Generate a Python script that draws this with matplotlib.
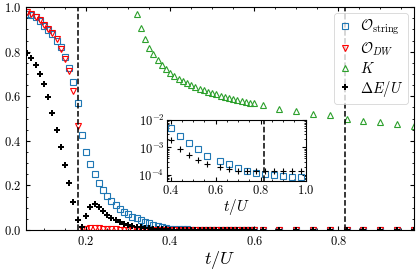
import numpy as np
import matplotlib
matplotlib.use("Agg")
import matplotlib.pyplot as plt
from matplotlib.ticker import AutoMinorLocator, LogLocator, NullFormatter

# grid of t/U values (dense up to 0.60, then coarse)
t = np.round(np.concatenate([np.arange(0.06, 0.605, 0.01), np.arange(0.62, 0.99, 0.04)]), 2)

o_string = [0.968, 0.964, 0.954, 0.936, 0.916, 0.898, 0.878, 0.849, 0.819, 0.778, 0.728, 0.664, 0.571,
            0.428, 0.350, 0.297, 0.251, 0.213, 0.180, 0.153, 0.132, 0.113, 0.096, 0.083, 0.072, 0.060, 0.053, 0.045,
            0.037, 0.030, 0.024, 0.018, 0.013, 0.009, 0.0050, 0.0042, 0.0036, 0.0031, 0.0027, 0.0023, 0.0020, 0.0017,
            0.0015, 0.0013, 0.00115, 0.00100, 0.00085, 0.00075, 0.00065, 0.00055, 0.00049, 0.00044, 0.00040, 0.00037, 0.00034,
            3.24e-4, 2.41e-4, 1.82e-4, 1.43e-4, 1.21e-4, 1.06e-4, 9.8e-5, 9.2e-5, 8.7e-5, 8.7e-5]

o_dw = [0.976, 0.968, 0.956, 0.941, 0.919, 0.901, 0.882, 0.856, 0.814, 0.769, 0.713, 0.623, 0.465,
        0.003, 0.007, 0.009, 0.010, 0.009, 0.007, 0.005, 0.004, 0.003, 0.002, 0.002, 0.001, 0.001, 0.001,
        0.0, 0.0, 0.0, 0.0, 0.0, 0.0, 0.0, 0.0, 0.0, 0.0, 0.0, 0.0, 0.0, 0.0, 0.0, 0.0, 0.0, 0.0, 0.0, 0.0,
        0.0, 0.0, 0.0, 0.0, 0.0, 0.0, 0.0, 0.0,
        0.0, 0.0, 0.0, 0.0, 0.0, 0.0, 0.0, 0.0, 0.0, 0.0]

kin = [np.nan] * 26 + [
    0.968, 0.905, 0.856, 0.818, 0.788, 0.763, 0.740, 0.721, 0.706, 0.691, 0.679, 0.667, 0.658, 0.649,
    0.641, 0.634, 0.626, 0.620, 0.614, 0.608, 0.602, 0.598, 0.593, 0.589, 0.584, 0.580, 0.575, 0.571, 0.568,
    0.560, 0.545, 0.533, 0.521, 0.514, 0.500, 0.491, 0.483, 0.476, 0.468]

gap = [0.796, 0.770, 0.740, 0.701, 0.653, 0.598, 0.526, 0.448, 0.372, 0.293, 0.210, 0.128, 0.043,
       0.015, 0.065, 0.103, 0.118, 0.104, 0.085, 0.069, 0.056, 0.045, 0.036, 0.029, 0.023, 0.018, 0.015, 0.012,
       0.0095, 0.0078, 0.0062, 0.0048, 0.0036, 0.0026, 0.0018, 0.0015, 0.0012, 0.0010, 0.0009, 0.0008, 0.0007,
       0.00062, 0.00055, 0.00049, 0.00044, 0.00040, 0.00034, 0.00031, 0.00029, 0.00027, 0.00026, 0.00024,
       0.00022, 0.00021, 0.00020,
       1.88e-4, 1.60e-4, 1.43e-4, 1.39e-4, 1.36e-4, 1.35e-4, 1.35e-4, 1.35e-4, 1.35e-4, 1.35e-4]

t_inset = [0.40, 0.44, 0.48, 0.52, 0.56, 0.62, 0.66, 0.70, 0.74, 0.78, 0.82, 0.86, 0.90, 0.94, 0.98]
t_c1 = 0.18
t_c2 = 0.816

o_string = np.array(o_string)
o_dw = np.array(o_dw)
kin = np.array(kin)
gap = np.array(gap)

plt.rcParams['font.family'] = 'serif'
plt.rcParams['font.serif'] = ['cmr10']
plt.rcParams['mathtext.fontset'] = 'cm'
plt.rcParams['axes.formatter.use_mathtext'] = True
plt.rcParams['axes.unicode_minus'] = False
plt.rcParams['xtick.direction'] = 'in'
plt.rcParams['ytick.direction'] = 'in'
plt.rcParams['xtick.top'] = True
plt.rcParams['ytick.right'] = True
plt.rcParams['xtick.major.size'] = 3
plt.rcParams['ytick.major.size'] = 3
plt.rcParams['xtick.minor.size'] = 1.5
plt.rcParams['ytick.minor.size'] = 1.5
plt.rcParams['axes.linewidth'] = 0.8

fig = plt.figure(figsize=(4.16, 2.71), dpi=100)
ax = fig.add_axes([0.0625, 0.151, 0.9325, 0.823])

ms = 4.1
ax.plot(t, o_string, 's', ms=ms, mfc='none', mec='tab:blue', mew=0.8, label=r'$\mathcal{O}_{\rm string}$')
ax.plot(t, o_dw, 'v', ms=ms, mfc='none', mec='red', mew=0.8, label=r'$\mathcal{O}_{DW}$')
ax.plot(t, kin, '^', ms=ms, mfc='none', mec='tab:green', mew=0.8, label=r'$K$')
ax.plot(t, gap, 'P', ms=4.5, color='black', mew=0, label=r'$\Delta E/U$')
ax.axvline(t_c1, color='black', ls='--', lw=1.1)
ax.axvline(t_c2, color='black', ls='--', lw=1.1)

ax.set_xlim(0.057, 0.98)
ax.set_ylim(0, 1.0)
ax.set_xticks([0.2, 0.4, 0.6, 0.8])
ax.set_yticks([0.0, 0.2, 0.4, 0.6, 0.8, 1.0])
ax.xaxis.set_minor_locator(AutoMinorLocator())
ax.yaxis.set_minor_locator(AutoMinorLocator())
ax.tick_params(labelsize=9)
ax.set_xlabel(r'$t/U$', fontsize=13, labelpad=1)

leg = ax.legend(loc='upper right', fontsize=10.5, handlelength=0.8, handletextpad=0.6,
                labelspacing=0.2, borderpad=0.35, fancybox=True, framealpha=0.8,
                borderaxespad=0.4)
leg.get_frame().set_linewidth(0.6)

# inset: log scale close to t_c2
sel = np.isin(t, t_inset)
axin = fig.add_axes([0.402, 0.332, 0.333, 0.225])
axin.plot(t[sel], o_string[sel], 's', ms=ms, mfc='none', mec='tab:blue', mew=0.8)
axin.plot(t[sel], gap[sel], '+', ms=4.5, color='black', mew=0.8)
axin.axvline(t_c2, color='black', ls='--', lw=1.1)
axin.set_yscale('log')
axin.set_xlim(0.385, 1.0)
axin.set_ylim(6e-5, 1e-2)
axin.set_xticks([0.4, 0.6, 0.8, 1.0])
axin.xaxis.set_minor_locator(AutoMinorLocator())
axin.yaxis.set_major_locator(LogLocator(base=10, numticks=5))
axin.yaxis.set_minor_locator(LogLocator(base=10, subs=np.arange(2, 10), numticks=10))
axin.yaxis.set_minor_formatter(NullFormatter())
axin.tick_params(labelsize=9, pad=2)
axin.set_xlabel(r'$t/U$', fontsize=11, labelpad=0)

fig.savefig('out.png', dpi=100)
